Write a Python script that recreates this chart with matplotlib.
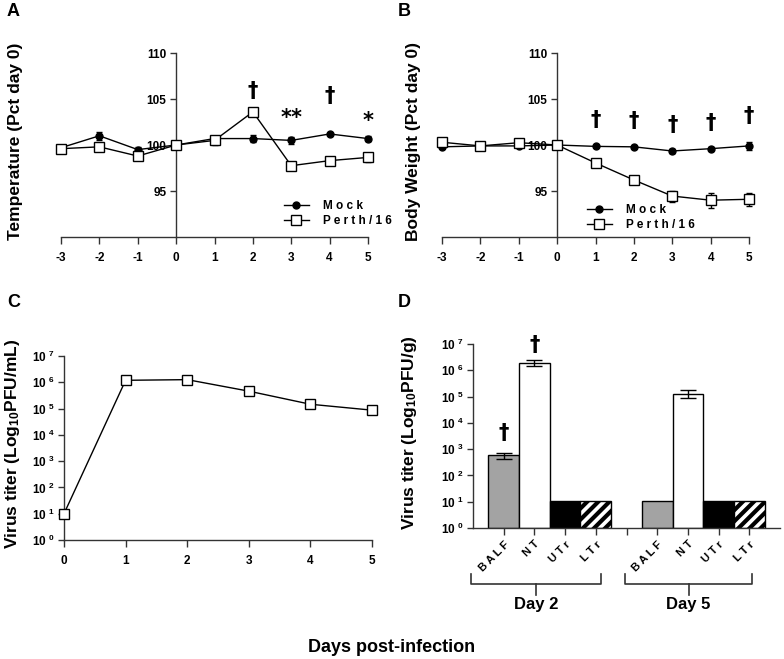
import matplotlib
matplotlib.use("Agg")
import matplotlib.pyplot as plt
import numpy as np
from matplotlib.lines import Line2D
from matplotlib.transforms import blended_transform_factory

plt.rcParams['font.family'] = ['Liberation Sans', 'DejaVu Sans']
plt.rcParams['font.weight'] = 'bold'
plt.rcParams['mathtext.fontset'] = 'custom'
plt.rcParams['mathtext.rm'] = 'Liberation Sans:bold'
plt.rcParams['mathtext.bf'] = 'Liberation Sans:bold'
plt.rcParams['mathtext.default'] = 'bf'
plt.rcParams['hatch.linewidth'] = 3.0
plt.rcParams['axes.unicode_minus'] = False

# ---------------- data ----------------
days_ab = [-3, -2, -1, 0, 1, 2, 3, 4, 5]
temp_mock = [99.7, 101.0, 99.5, 100.0, 100.7, 100.7, 100.5, 101.2, 100.7]
temp_mock_err = [0.3, 0.45, 0.3, 0.0, 0.3, 0.35, 0.35, 0.15, 0.25]
temp_perth = [99.6, 99.8, 98.8, 100.0, 100.5, 103.6, 97.75, 98.3, 98.65]
temp_perth_err = [0.3, 0.3, 0.2, 0.0, 0.5, 0.2, 0.25, 0.2, 0.45]
temp_marks = ['†', '**', '†', '*']
temp_mark_x = [2, 3, 4, 5]
temp_mark_y = [105.9, 102.9, 105.3, 102.6]

wt_mock = [99.8, 99.9, 99.9, 100.0, 99.85, 99.8, 99.35, 99.6, 99.9]
wt_mock_err = [0.15, 0.1, 0.1, 0.0, 0.1, 0.1, 0.2, 0.15, 0.45]
wt_perth = [100.3, 99.9, 100.25, 100.0, 98.05, 96.2, 94.45, 94.0, 94.1]
wt_perth_err = [0.3, 0.15, 0.2, 0.0, 0.15, 0.15, 0.6, 0.8, 0.7]
wt_marks = ['†', '†', '†', '†', '†']
wt_mark_x = [1, 2, 3, 4, 5]
wt_mark_y = [102.7, 102.6, 102.2, 102.4, 103.1]

days_c = [0, 1, 2, 3, 4, 5]
titer_c = [10, 1.19e6, 1.26e6, 4.6e5, 1.46e5, 8.7e4]
titer_c_err = [0, 1.5e5, 1.0e5, 9e4, 3e4, 1.5e4]

tissues = ['BALF', 'NT', 'UTr', 'LTr']
tissue_labels = ['B A L F', 'N T', 'U T r', 'L T r']
day_groups = ['Day 2', 'Day 5']
titer_d = [[585, 1.9e6, 10, 10], [10, 1.3e5, 10, 10]]
titer_d_lo = [[158, 4.8e5, 0, 0], [0, 4.5e4, 0, 0]]
titer_d_hi = [[133, 5.0e5, 0, 0], [0, 4.3e4, 0, 0]]
d_marks = ['†', '†']
d_mark_pos = [(1, 10 ** 3.6), (2, 10 ** 6.95)]

bar_face = ['#a3a3a3', 'white', 'black', 'white']
bar_hatch = [None, None, None, '///']

W, H = 784, 659
fig = plt.figure(figsize=(W / 100, H / 100), dpi=100)


def rect(x0, ytop, w, h):
    return [x0 / W, 1 - (ytop + h) / H, w / W, h / H]


tick_fs = 8.5
lab_fs = 12.5
mark_font = ['DejaVu Sans']


def style_axes(ax):
    for s in ['top', 'right']:
        ax.spines[s].set_visible(False)
    for s in ['left', 'bottom']:
        ax.spines[s].set_linewidth(1.0)
        ax.spines[s].set_color('#333333')
    ax.tick_params(axis='both', direction='out', width=1.0, colors='#333333',
                   labelcolor='black', labelsize=tick_fs)
    ax.tick_params(axis='x', length=5, pad=6)
    ax.tick_params(axis='y', length=4, pad=3)
    for t in ax.get_xticklabels() + ax.get_yticklabels():
        t.set_fontweight('bold')


def line_panel(ax, ym, yme, yp, ype, marks, mx, my, ylabel, leg_anchor):
    ax.errorbar(days_ab, ym, yerr=yme, fmt='-o', color='black', mfc='black',
                mec='black', ms=5, lw=1, elinewidth=1, capsize=2.5, clip_on=False,
                zorder=3)
    ax.errorbar(days_ab, yp, yerr=ype, fmt='-s', color='black', mfc='white',
                mec='black', ms=7, mew=1, lw=1, elinewidth=1, capsize=2.5,
                clip_on=False, zorder=4)
    ax.set_xlim(-3, 5)
    ax.set_ylim(90, 110)
    ax.set_xticks(days_ab)
    ax.set_yticks([95, 100, 105, 110])
    ax.spines['left'].set_position(('data', 0))
    style_axes(ax)
    for m, x, y in zip(marks, mx, my):
        ax.text(x, y, m, ha='center', va='center', fontsize=15, fontweight='bold',
                family=mark_font)
    ax.set_ylabel(ylabel, fontsize=lab_fs, fontweight='bold')
    handles = [Line2D([], [], color='black', marker='o', ms=5, lw=1),
               Line2D([], [], color='black', marker='s', mfc='white', ms=7, lw=1)]
    ax.legend(handles, ['M o c k', 'P e r t h / 1 6'], loc='upper left',
              bbox_to_anchor=leg_anchor, frameon=False,
              handlelength=2.1, handletextpad=1.2, labelspacing=0.25,
              borderpad=0, borderaxespad=0, prop={'weight': 'bold', 'size': 8.5})


# Panel A
axA = fig.add_axes(rect(61, 53, 307, 184))
line_panel(axA, temp_mock, temp_mock_err, temp_perth, temp_perth_err,
           temp_marks, temp_mark_x, temp_mark_y, 'Temperature (Pct day 0)',
           (0.726, 0.20))
axA.yaxis.set_label_coords(-0.125, 0.52)

# Panel B
axB = fig.add_axes(rect(442, 53, 307, 184))
line_panel(axB, wt_mock, wt_mock_err, wt_perth, wt_perth_err,
           wt_marks, wt_mark_x, wt_mark_y, 'Body Weight (Pct day 0)',
           (0.472, 0.18))
axB.yaxis.set_label_coords(-0.07, 0.52)

# Panel C
axC = fig.add_axes(rect(64, 356, 308, 184))
lo = [min(e, v * 0.5) for e, v in zip(titer_c_err, titer_c)]
axC.errorbar(days_c, titer_c, yerr=[lo, [0] * len(lo)], fmt='-s', color='black',
             mfc='white', mec='black', ms=7, mew=1, lw=1, elinewidth=1,
             capsize=2.5, clip_on=False, zorder=3)
axC.set_yscale('log')
axC.set_ylim(1, 1e7)
axC.set_xlim(0, 5)
axC.set_xticks(days_c)
axC.set_yticks([10 ** k for k in range(8)])
axC.set_yticklabels([r'$10^{\ %d}$' % k for k in range(8)])
axC.yaxis.set_minor_locator(matplotlib.ticker.NullLocator())
style_axes(axC)
axC.set_ylabel(r'Virus titer (Log$_{10}$PFU/mL)', fontsize=lab_fs, fontweight='bold')
axC.yaxis.set_label_coords(-0.135, 0.52)

# Panel D
axD = fig.add_axes(rect(473, 344, 307, 184))
pos = [[1, 2, 3, 4], [6, 7, 8, 9]]
for g in range(2):
    for i in range(4):
        axD.bar(pos[g][i], titer_d[g][i], width=1.0, bottom=1,
                color=bar_face[i], edgecolor='black', linewidth=1.0,
                hatch=bar_hatch[i], zorder=2)
        if titer_d_lo[g][i] > 0:
            axD.errorbar(pos[g][i], titer_d[g][i],
                         yerr=[[titer_d_lo[g][i]], [titer_d_hi[g][i]]],
                         fmt='none', ecolor='black', elinewidth=1, capsize=6,
                         capthick=1, zorder=3)
axD.set_yscale('log')
axD.set_ylim(1, 1e7)
axD.set_xlim(0, 10)
axD.set_xticks([1, 2, 3, 4, 5, 6, 7, 8, 9])
axD.set_xticklabels(tissue_labels + [''] + tissue_labels)
axD.set_yticks([10 ** k for k in range(8)])
axD.set_yticklabels([r'$10^{\ %d}$' % k for k in range(8)])
axD.yaxis.set_minor_locator(matplotlib.ticker.NullLocator())
style_axes(axD)
for t in axD.get_xticklabels():
    t.set_rotation(45)
    t.set_ha('right')
    t.set_rotation_mode('anchor')
    t.set_fontsize(8)
axD.tick_params(axis='x', pad=3)
for m, (x, y) in zip(d_marks, d_mark_pos):
    axD.text(x, y, m, ha='center', va='center', fontsize=15, fontweight='bold',
             family=mark_font)
axD.set_ylabel(r'Virus titer (Log$_{10}$PFU/g)', fontsize=lab_fs, fontweight='bold')
axD.yaxis.set_label_coords(-0.175, 0.52)

# brackets
tr = blended_transform_factory(axD.transData, axD.transAxes)
y_h = -(584 - 528) / 184
y_t = -(574 - 528) / 184
y_c = -(595 - 528) / 184
y_txt = -(597 - 528) / 184
for (x0, x1), name in zip([(-0.05, 4.18), (4.95, 9.1)], day_groups):
    xc = (x0 + x1) / 2
    axD.plot([x0, x0, x1, x1], [y_t, y_h, y_h, y_t], color='#333333', lw=1.2,
             transform=tr, clip_on=False)
    axD.plot([xc, xc], [y_h, y_c], color='#333333', lw=1.2, transform=tr,
             clip_on=False)
    axD.text(xc, y_txt, name, transform=tr, ha='center', va='top',
             fontsize=12, fontweight='bold')

# panel letters
for lx, ly, L in [(7, 12, 'A'), (398, 12, 'B'), (7, 303, 'C'), (398, 303, 'D')]:
    fig.text(lx / W, 1 - ly / H, L, ha='left', va='center', fontsize=13,
             fontweight='bold')

fig.text(0.5, 1 - 648 / H, 'Days post-infection', ha='center', va='center',
         fontsize=13, fontweight='bold')

fig.savefig('out.png', dpi=100)
